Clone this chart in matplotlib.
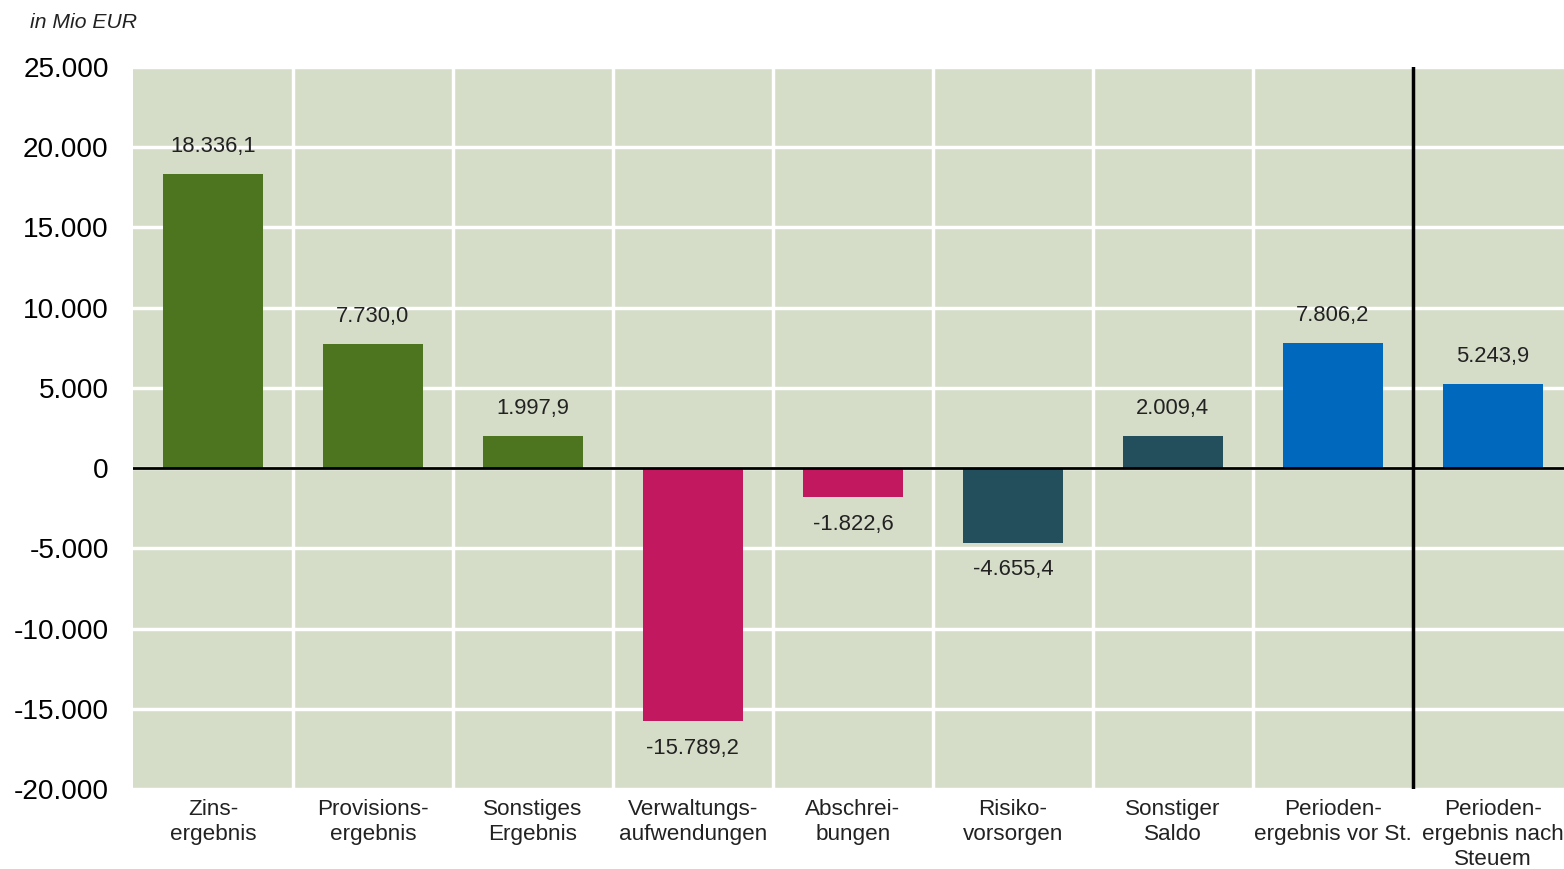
import matplotlib.pyplot as plt
import numpy as np

# Data
categories = ['Zins-\nergebnis', 'Provisions-\nergebnis', 'Sonstiges\nErgebnis',
              'Verwaltungs-\naufwendungen', 'Abschrei-\nbungen', 'Risiko-\nvorsorgen',
              'Sonstiger\nSaldo', 'Perioden-\nergebnis vor St.',
              'Perioden-\nergebnis nach\nSteuem']
values = [18336.1, 7730.0, 1997.9, -15789.2, -1822.6, -4655.4, 2009.4, 7806.2, 5243.9]
bar_colors = ['#4d7520', '#4d7520', '#4d7520', '#c2185f', '#c2185f',
              '#234e5c', '#234e5c', '#0069be', '#0069be']
yticks = [25000, 20000, 15000, 10000, 5000, 0, -5000, -10000, -15000, -20000]


def de_fmt(v, dec=1):
    # German number format: 18.336,1
    s = f"{v:,.{dec}f}"
    return s.replace(',', 'X').replace('.', ',').replace('X', '.')


plt.rcParams['font.family'] = ['Liberation Sans', 'DejaVu Sans']

fig = plt.figure(figsize=(15.64, 8.69), dpi=100)
# the plot area runs a little past the right edge of the picture
ax = fig.add_axes([0.085, 0.092, 0.9207, 0.831])
ax.set_facecolor('#d5dcc7')

x = np.arange(len(values))
ax.bar(x, values, width=0.625, color=bar_colors, zorder=3)

ax.set_xlim(-0.5, len(values) - 0.5)
ax.set_ylim(-20000, 25000)

# white grid: horizontal at ticks, vertical at category boundaries
for y in yticks:
    ax.axhline(y, color='white', lw=2.5, zorder=1)
for b in np.arange(0.5, len(values) - 1.5, 1.0):
    ax.axvline(b, color='white', lw=2.5, zorder=1)
ax.axvline(len(values) - 1.5, color='black', lw=2.5, zorder=4)
ax.axhline(0, color='black', lw=2, zorder=4)

for xi, v in zip(x, values):
    if v >= 0:
        ax.annotate(de_fmt(v), (xi, v), xytext=(0, 12), textcoords='offset points',
                    ha='center', va='bottom', fontsize=15.8, color='#222222')
    else:
        ax.annotate(de_fmt(v), (xi, v), xytext=(0, -12), textcoords='offset points',
                    ha='center', va='top', fontsize=15.8, color='#222222')

ax.set_yticks(yticks)
ax.set_yticklabels([de_fmt(t, 0) for t in yticks], fontsize=20.2)
ax.set_xticks(x)
ax.set_xticklabels(categories, fontsize=16.2, linespacing=1.27, color='#222222')
ax.tick_params(axis='both', length=0)
ax.tick_params(axis='y', pad=17.5)
ax.tick_params(axis='x', pad=7)
for s in ax.spines.values():
    s.set_visible(False)

fig.text(0.019, 0.974, 'in Mio EUR', fontsize=15.2, style='italic',
         ha='left', va='center', color='#222222')

fig.savefig('out.png', dpi=100)
